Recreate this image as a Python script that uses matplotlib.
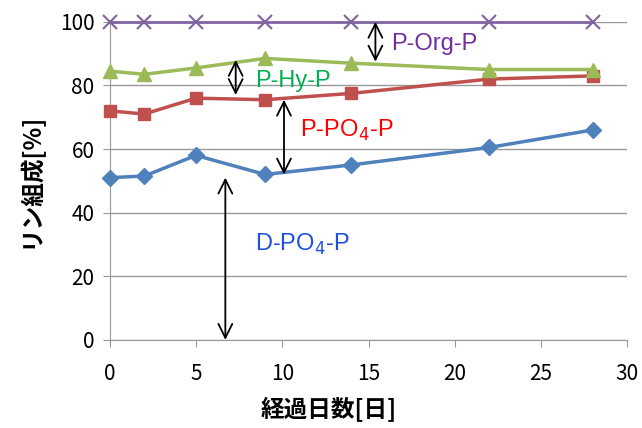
import matplotlib.pyplot as plt

plt.rcParams['font.family'] = ['Noto Sans CJK JP', 'DejaVu Sans']

days = [0, 2, 5, 9, 14, 22, 28]
d_po4 = [51, 51.5, 58, 52, 55, 60.5, 66]
p_po4 = [72, 71, 76, 75.5, 77.5, 82, 83]
p_hy = [84.5, 83.5, 85.5, 88.5, 87, 85, 85]
p_org = [100, 100, 100, 100, 100, 100, 100]

fig = plt.figure(figsize=(6.42, 4.28), dpi=100)
ax = fig.add_axes([0.171, 0.206, 0.806, 0.743])

ax.plot(days, d_po4, color='#4F81BD', lw=2.5, marker='D', ms=8, zorder=3, clip_on=False)
ax.plot(days, p_po4, color='#C0504D', lw=2.5, marker='s', ms=9, zorder=3, clip_on=False)
ax.plot(days, p_hy, color='#9BBB59', lw=2.5, marker='^', ms=10, zorder=3, clip_on=False)
ax.plot(days, p_org, color='#8064A2', lw=2, marker='x', ms=10, mew=1.5, zorder=3, clip_on=False)

ax.set_xlim(0, 30)
ax.set_ylim(0, 100)
ax.set_xticks(range(0, 31, 5))
ax.set_yticks(range(0, 101, 20))
ax.grid(axis='y', color='#999999', lw=1)
ax.set_axisbelow(True)
for s in ['top', 'right']:
    ax.spines[s].set_visible(False)
for s in ['left', 'bottom']:
    ax.spines[s].set_color('#999999')
ax.tick_params(axis='both', colors='#999999', labelcolor='black', labelsize=15, length=5)
ax.tick_params(axis='x', pad=12)
ax.tick_params(axis='y', pad=6)

ax.set_xlabel('経過日数[日]', fontsize=17, fontweight='bold', va='center')
ax.xaxis.set_label_coords(0.424, -0.22)
ax.set_ylabel('リン組成[%]', fontsize=17, fontweight='bold')
ax.yaxis.set_label_coords(-0.13, 0.5)

arrow = dict(arrowstyle='<->', color='black', lw=1.3, mutation_scale=25, shrinkA=0, shrinkB=0)
ax.annotate('', xy=(6.7, 0), xytext=(6.7, 51), arrowprops=arrow)
ax.annotate('', xy=(10.1, 52), xytext=(10.1, 75.5), arrowprops=arrow)
ax.annotate('', xy=(7.3, 77), xytext=(7.3, 88), arrowprops=arrow)
ax.annotate('', xy=(15.4, 87.5), xytext=(15.4, 100), arrowprops=arrow)

tf = ['Liberation Sans', 'DejaVu Sans']
ax.text(8.4, 30, 'D-PO$_4$-P', color='#1F50E0', fontsize=17, family=tf, va='center')
ax.text(11.0, 66, 'P-PO$_4$-P', color='#FF0000', fontsize=17, family=tf, va='center')
ax.text(8.4, 81.5, 'P-Hy-P', color='#00B050', fontsize=17, family=tf, va='center')
ax.text(16.3, 93, 'P-Org-P', color='#7030A0', fontsize=17, family=tf, va='center')

fig.savefig('out.png', dpi=100)
